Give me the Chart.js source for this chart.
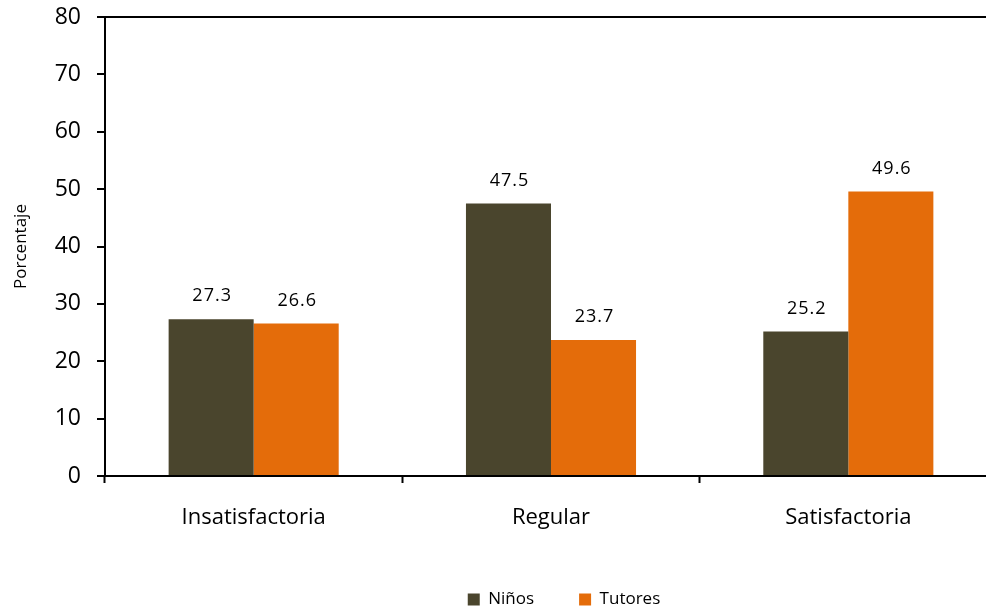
<!DOCTYPE html>
<html>
<head>
<meta charset="utf-8">
<script src="https://cdn.jsdelivr.net/npm/chart.js@4"></script>
<style>
  html, body { margin: 0; padding: 0; background: #fff; overflow: hidden; }
  #wrap { position: relative; width: 1000px; height: 618px; }
</style>
</head>
<body>
<div id="wrap"><canvas id="chart"></canvas></div>
<script>
const categories = ["Insatisfactoria", "Regular", "Satisfactoria"];
const ninos = [27.3, 47.5, 25.2];
const tutores = [26.6, 23.7, 49.6];
const seriesNames = ["Niños", "Tutores"];
const yTicks = [0, 10, 20, 30, 40, 50, 60, 70, 80];

const FONT = "'Open Sans', sans-serif";

// value labels above each bar
const barLabels = {
  id: "barLabels",
  afterDatasetsDraw(chart) {
    const ctx = chart.ctx;
    ctx.save();
    ctx.font = "18px " + FONT;
    ctx.letterSpacing = "1px";
    ctx.fillStyle = "#000";
    ctx.textAlign = "center";
    ctx.textBaseline = "middle";
    chart.data.datasets.forEach((ds, i) => {
      chart.getDatasetMeta(i).data.forEach((bar, j) => {
        ctx.fillText(ds.data[j].toFixed(1), bar.x + 1, bar.y - 23);
      });
    });
    ctx.restore();
  }
};

// nudge the legend a little to the right, like the original
const legendShift = {
  id: "legendShift",
  afterLayout(chart) {
    chart.legend.left += 13;
    chart.legend.right += 13;
  }
};

new Chart(document.getElementById("chart"), {
  type: "bar",
  data: {
    labels: categories,
    datasets: [
      { label: seriesNames[0], data: ninos, backgroundColor: "#4a452d" },
      { label: seriesNames[1], data: tutores, backgroundColor: "#e46c0a" }
    ]
  },
  options: {
    responsive: true,
    maintainAspectRatio: false,
    animation: false,
    layout: { padding: { top: 17, right: 3, left: 0, bottom: 0 } },
    datasets: { bar: { barPercentage: 1, categoryPercentage: 0.572 } },
    plugins: {
      legend: {
        position: "bottom",
        fullSize: false,
        labels: {
          boxWidth: 12,
          boxHeight: 12,
          padding: 45,
          color: "#000",
          font: { family: FONT, size: 17 }
        }
      },
      tooltip: { enabled: false }
    },
    scales: {
      x: {
        grid: { drawOnChartArea: false, drawTicks: true, tickLength: 7, tickColor: "#000", tickWidth: 2 },
        border: { display: true, color: "#000", width: 2 },
        ticks: { color: "#000", padding: 22, font: { family: FONT, size: 22 } },
        afterFit(scale) { scale.height = 70; }
      },
      y: {
        min: 0,
        max: 80,
        afterBuildTicks(scale) { scale.ticks = yTicks.map(v => ({ value: v })); },
        grid: {
          color: c => (c.tick && c.tick.value === 80 ? "#000" : "rgba(0,0,0,0)"),
          lineWidth: 2,
          drawTicks: true,
          tickLength: 8,
          tickColor: "#000",
          tickWidth: 2
        },
        border: { display: true, color: "#000", width: 2 },
        ticks: { color: "#000", padding: 16, font: { family: FONT, size: 23 } },
        title: {
          display: true,
          text: "Porcentaje",
          color: "#000",
          padding: { top: 11, bottom: 0 },
          font: { family: FONT, size: 17 }
        },
        afterFit(scale) {
          scale.width = 105;
          scale.paddingTop = 0;
          scale.paddingBottom = 0;
        }
      }
    }
  },
  plugins: [barLabels, legendShift]
});
</script>
</body>
</html>
